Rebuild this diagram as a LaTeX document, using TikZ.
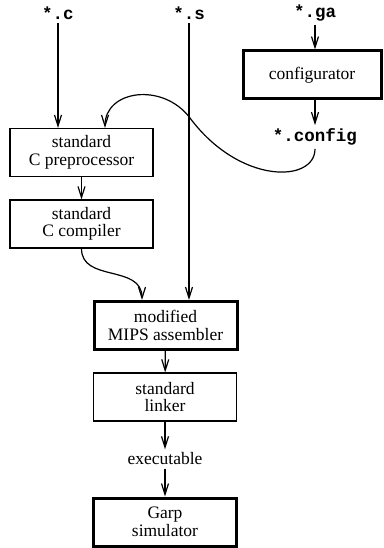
\documentclass[tikz,border=0pt]{standalone}
\usepackage{fontspec}
\setmainfont{Liberation Serif}
\setmonofont{Liberation Mono}
\usetikzlibrary{arrows.meta}

\begin{document}
\begin{tikzpicture}[x=1pt,y=-1pt,
        font=\fontsize{17.5}{17.5}\selectfont,
        box/.style={draw,line width=1.2pt,minimum width=143pt,minimum height=48pt,inner sep=0pt,align=center},
        thickbox/.style={box,line width=3pt},
        file/.style={font=\fontsize{17.5}{17.5}\selectfont\ttfamily\bfseries},
        flow/.style={line width=1.2pt,-{Straight Barb[length=11pt,width=7pt]}}]
        \useasboundingbox (0,0) rectangle (383,548);
        % inputs
        \node[file] (c) at (58,13) {*.c};
        \node[file] (s) at (189,13) {*.s};
        \node[file] (ga) at (315,13) {*.ga};
        % boxes
        \node[thickbox,minimum width=138pt] (conf) at (312,75) {configurator};
        \node[file] (cfg) at (315,137) {*.config};
        \node[box] (prep) at (81.5,152.5) {standard\\C preprocessor};
        \node[box] (comp) at (81.5,224) {standard\\C compiler};
        \node[thickbox] (asm) at (165.5,325.5) {modified\\MIPS assembler};
        \node[box] (link) at (165,397) {standard\\linker};
        \node (exec) at (165,459) {executable};
        \node[thickbox] (garp) at (165,522) {Garp\\simulator};
        \coordinate (cross) at (190,118);
        % arrows
        \draw[flow] (c) -- (c |- prep.north);
        \draw[flow] (s) -- (s |- asm.north);
        \draw[flow] (ga) -- (ga |- conf.north);
        \draw[flow] (cfg |- conf.south) -- (cfg);
        \draw[flow] (cfg.south) .. controls +(0,34) and +(50,67) .. (cross)
            .. controls +(-27,-36) and +(0,-38) .. ([xshift=23.5pt]prep.north);
        \draw[flow] (prep) -- (comp);
        \draw[flow] (comp.south) .. controls +(0,34) and +(0,-36) .. ([xshift=-23.5pt]asm.north);
        \draw[flow] (asm) -- (link);
        \draw[flow] (link) -- (exec);
        \draw[flow] (exec) -- (garp);
\end{tikzpicture}
\end{document}
